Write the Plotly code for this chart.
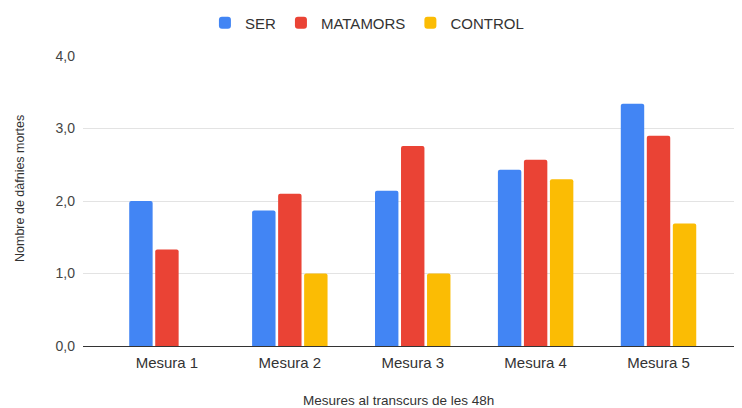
import plotly.graph_objects as go

categories = ["Mesura 1", "Mesura 2", "Mesura 3", "Mesura 4", "Mesura 5"]
ser = [2.0, 1.87, 2.14, 2.43, 3.34]
matamors = [1.33, 2.1, 2.76, 2.57, 2.9]
control = [0, 1.0, 1.0, 2.3, 1.69]
series_names = ["SER", "MATAMORS", "CONTROL"]
colors = ["#4285F4", "#EA4335", "#FBBC04"]

# page body has an 8px margin, so the figure is sized/offset to compensate
W, H = 734, 400
L, R, T, B = 75, 2, 48, 62
PW, PH = W - L - R, H - T - B

fig = go.Figure()
for name, vals, col in zip(series_names, [ser, matamors, control], colors):
    fig.add_trace(go.Bar(x=categories, y=vals, name=name, marker_color=col,
                         marker_line_width=0))

font = "Arial, Liberation Sans, sans-serif"
fig.update_layout(
    width=W, height=H,
    margin=dict(l=L, r=R, t=T, b=B, autoexpand=False),
    plot_bgcolor="white", paper_bgcolor="white",
    barmode="group", bargap=0.365, bargroupgap=0.1, barcornerradius=2,
    separators=",.",
    font=dict(family=font, size=13, color="#444"),
    legend=dict(orientation="h", x=0.489, xanchor="center", xref="container",
                y=1 - 15 / H, yanchor="middle", yref="container",
                font=dict(size=15, color="#333"), traceorder="normal", itemwidth=30),
    showlegend=True,
)
fig.update_xaxes(range=[-0.683, 4.663], showgrid=False, showline=True,
                 linecolor="#333", linewidth=1, ticks="",
                 tickfont=dict(size=15, color="#333"), ticklabelstandoff=3)
fig.update_yaxes(range=[0, 4], dtick=1, tickformat=".1f", showgrid=True,
                 gridcolor="#e3e3e3", gridwidth=1, zeroline=False, showline=False,
                 ticks="", tickfont=dict(size=14, color="#444"), ticklabelstandoff=7)

fig.add_annotation(text="Mesures al transcurs de les 48h", xref="paper", yref="paper",
                   x=(390 - L) / PW, y=-(392 - (H - B)) / PH,
                   xanchor="center", yanchor="middle", showarrow=False,
                   font=dict(size=13.5, color="#333"))
fig.add_annotation(text="Nombre de dàfnies mortes", xref="paper", yref="paper",
                   x=-(L - 12) / PW, y=((H - B) - 181) / PH,
                   xanchor="center", yanchor="middle", textangle=-90, showarrow=False,
                   font=dict(size=12.5, color="#333"))

fig.write_html("out.html")
